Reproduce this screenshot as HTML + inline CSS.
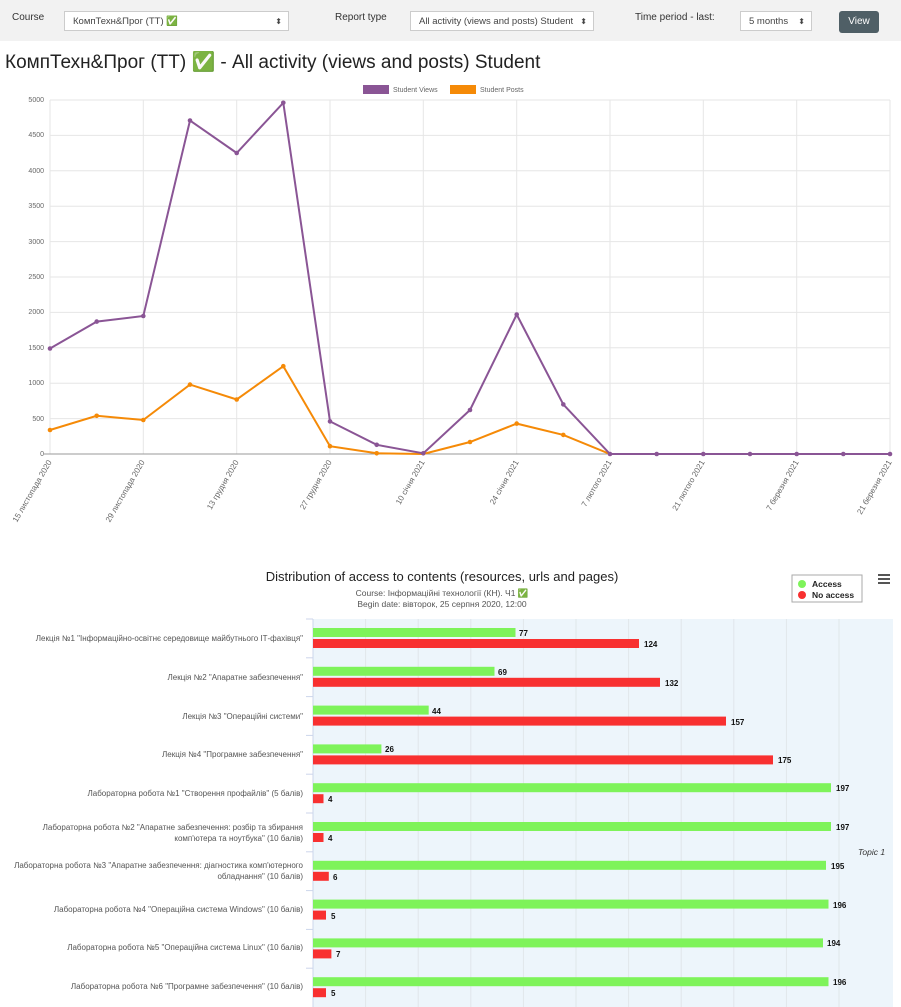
<!DOCTYPE html>
<html><head><meta charset="utf-8"><style>
body{margin:0;width:901px;height:1007px;overflow:hidden;background:#fff;font-family:"Liberation Sans","DejaVu Sans",sans-serif;}
.bar{position:absolute;left:0;top:0;width:901px;height:41px;background:#f2f2f2;}
.lbl{position:absolute;font-size:10px;color:#333;}
.sel{position:absolute;height:20px;border:1px solid #ccc;background:#fff;font-size:9.5px;color:#444;line-height:20px;padding-left:8px;box-sizing:border-box;}
.sel span{position:absolute;right:6px;top:0;font-size:8px;}
.btn{position:absolute;left:839px;top:11px;width:40px;height:22px;background:#4f5f66;color:#fff;font-size:10px;text-align:center;line-height:22px;border-radius:3px;}
h1{position:absolute;left:5px;top:50px;margin:0;font-weight:normal;font-size:19px;color:#222;}
</style></head><body>
<div class="bar"></div>
<div class="lbl" style="left:12px;top:12px">Course</div>
<div class="sel" style="left:64px;top:11px;width:225px">КомпТехн&amp;Прог (ТТ) ✅<span>⬍</span></div>
<div class="lbl" style="left:335px;top:12px">Report type</div>
<div class="sel" style="left:410px;top:11px;width:184px">All activity (views and posts) Student<span>⬍</span></div>
<div class="lbl" style="left:635px;top:12px">Time period - last:</div>
<div class="sel" style="left:740px;top:11px;width:72px">5 months<span>⬍</span></div>
<div class="btn">View</div>
<h1>КомпТехн&amp;Прог (ТТ) ✅ - All activity (views and posts) Student</h1>
<svg width="901" height="1007" style="position:absolute;left:0;top:0" font-family="Liberation Sans, DejaVu Sans, sans-serif">
<rect x="363" y="85" width="26" height="9" fill="#8a5595"/><text x="393" y="92" font-size="7" fill="#666">Student Views</text>
<rect x="450" y="85" width="26" height="9" fill="#f58a07"/><text x="480" y="92" font-size="7" fill="#666">Student Posts</text>
<g stroke="#e6e6e6" stroke-width="1">
<line x1="50" y1="100" x2="890" y2="100"/><line x1="50" y1="135.4" x2="890" y2="135.4"/><line x1="50" y1="170.8" x2="890" y2="170.8"/><line x1="50" y1="206.2" x2="890" y2="206.2"/><line x1="50" y1="241.6" x2="890" y2="241.6"/><line x1="50" y1="277" x2="890" y2="277"/><line x1="50" y1="312.4" x2="890" y2="312.4"/><line x1="50" y1="347.8" x2="890" y2="347.8"/><line x1="50" y1="383.2" x2="890" y2="383.2"/><line x1="50" y1="418.6" x2="890" y2="418.6"/>
<line x1="50" y1="100" x2="50" y2="454"/><line x1="143.3" y1="100" x2="143.3" y2="454"/><line x1="236.7" y1="100" x2="236.7" y2="454"/><line x1="330" y1="100" x2="330" y2="454"/><line x1="423.3" y1="100" x2="423.3" y2="454"/><line x1="516.7" y1="100" x2="516.7" y2="454"/><line x1="610" y1="100" x2="610" y2="454"/><line x1="703.3" y1="100" x2="703.3" y2="454"/><line x1="796.7" y1="100" x2="796.7" y2="454"/><line x1="890" y1="100" x2="890" y2="454"/>
</g>
<line x1="44" y1="454" x2="890" y2="454" stroke="#999"/>
<g font-size="7" fill="#666" text-anchor="end">
<text x="44" y="102">5000</text><text x="44" y="137">4500</text><text x="44" y="173">4000</text><text x="44" y="208">3500</text><text x="44" y="244">3000</text><text x="44" y="279">2500</text><text x="44" y="314">2000</text><text x="44" y="350">1500</text><text x="44" y="385">1000</text><text x="44" y="421">500</text><text x="44" y="456">0</text>
</g>
<g font-size="8" fill="#666" text-anchor="end">
<text transform="translate(52,462) rotate(-60)">15 листопада 2020</text>
<text transform="translate(145,462) rotate(-60)">29 листопада 2020</text>
<text transform="translate(239,462) rotate(-60)">13 грудня 2020</text>
<text transform="translate(332,462) rotate(-60)">27 грудня 2020</text>
<text transform="translate(425,462) rotate(-60)">10 січня 2021</text>
<text transform="translate(519,462) rotate(-60)">24 січня 2021</text>
<text transform="translate(612,462) rotate(-60)">7 лютого 2021</text>
<text transform="translate(705,462) rotate(-60)">21 лютого 2021</text>
<text transform="translate(799,462) rotate(-60)">7 березня 2021</text>
<text transform="translate(892,462) rotate(-60)">21 березня 2021</text>
</g>
<polyline fill="none" stroke="#f58a07" stroke-width="2" points="50,430 96.7,415.8 143.3,420 190,384.6 236.7,399.5 283.3,366.2 330,446.2 376.7,453.3 423.3,454 470,442 516.7,423.6 563.3,434.9 610,454 656.7,454 703.3,454 750,454 796.7,454 843.3,454 890,454"/>
<polyline fill="none" stroke="#8a5595" stroke-width="2" points="50,348.5 96.7,321.6 143.3,316 190,120.5 236.7,153 283.3,102.8 330,421.4 376.7,444.8 423.3,453.3 470,410 516.7,314.5 563.3,404.4 610,454 656.7,454 703.3,454 750,454 796.7,454 843.3,454 890,454"/>
<g fill="#f58a07"><circle cx="50" cy="430" r="2.3"/><circle cx="96.7" cy="415.8" r="2.3"/><circle cx="143.3" cy="420" r="2.3"/><circle cx="190" cy="384.6" r="2.3"/><circle cx="236.7" cy="399.5" r="2.3"/><circle cx="283.3" cy="366.2" r="2.3"/><circle cx="330" cy="446.2" r="2.3"/><circle cx="376.7" cy="453.3" r="2.3"/><circle cx="470" cy="442" r="2.3"/><circle cx="516.7" cy="423.6" r="2.3"/><circle cx="563.3" cy="434.9" r="2.3"/></g>
<g fill="#8a5595"><circle cx="50" cy="348.5" r="2.3"/><circle cx="96.7" cy="321.6" r="2.3"/><circle cx="143.3" cy="316" r="2.3"/><circle cx="190" cy="120.5" r="2.3"/><circle cx="236.7" cy="153" r="2.3"/><circle cx="283.3" cy="102.8" r="2.3"/><circle cx="330" cy="421.4" r="2.3"/><circle cx="376.7" cy="444.8" r="2.3"/><circle cx="423.3" cy="453.3" r="2.3"/><circle cx="470" cy="410" r="2.3"/><circle cx="516.7" cy="314.5" r="2.3"/><circle cx="563.3" cy="404.4" r="2.3"/><circle cx="610" cy="454" r="2.3"/><circle cx="656.7" cy="454" r="2.3"/><circle cx="703.3" cy="454" r="2.3"/><circle cx="750" cy="454" r="2.3"/><circle cx="796.7" cy="454" r="2.3"/><circle cx="843.3" cy="454" r="2.3"/><circle cx="890" cy="454" r="2.3"/></g>

<text x="442" y="581" font-size="13" fill="#222" text-anchor="middle">Distribution of access to contents (resources, urls and pages)</text>
<text x="442" y="596" font-size="8.5" fill="#555" text-anchor="middle">Course: Інформаційні технології (КН). Ч1 ✅</text>
<text x="442" y="607" font-size="8.5" fill="#555" text-anchor="middle">Begin date: вівторок, 25 серпня 2020, 12:00</text>
<rect x="792" y="575" width="70" height="27" fill="#fff" stroke="#aaa"/>
<circle cx="802" cy="584" r="4" fill="#7ef35a"/><text x="812" y="587" font-size="8.5" font-weight="bold" fill="#222">Access</text>
<circle cx="802" cy="595" r="4" fill="#f83030"/><text x="812" y="598" font-size="8.5" font-weight="bold" fill="#222">No access</text>
<g fill="#555"><rect x="878" y="574" width="12" height="2"/><rect x="878" y="578" width="12" height="2"/><rect x="878" y="582" width="12" height="2"/></g>
<rect x="313" y="619" width="580" height="388" fill="#edf5fb"/>
<g stroke="#e0e6ea"><line x1="365.6" y1="619" x2="365.6" y2="1007"/><line x1="418.2" y1="619" x2="418.2" y2="1007"/><line x1="470.8" y1="619" x2="470.8" y2="1007"/><line x1="523.4" y1="619" x2="523.4" y2="1007"/><line x1="576" y1="619" x2="576" y2="1007"/><line x1="628.6" y1="619" x2="628.6" y2="1007"/><line x1="681.2" y1="619" x2="681.2" y2="1007"/><line x1="733.8" y1="619" x2="733.8" y2="1007"/><line x1="786.4" y1="619" x2="786.4" y2="1007"/><line x1="839" y1="619" x2="839" y2="1007"/></g>
<line x1="313" y1="619" x2="313" y2="1007" stroke="#ccd6eb"/>
<g stroke="#ccd6eb"><line x1="306" y1="619" x2="313" y2="619"/><line x1="306" y1="657.8" x2="313" y2="657.8"/><line x1="306" y1="696.6" x2="313" y2="696.6"/><line x1="306" y1="735.4" x2="313" y2="735.4"/><line x1="306" y1="774.2" x2="313" y2="774.2"/><line x1="306" y1="813" x2="313" y2="813"/><line x1="306" y1="851.8" x2="313" y2="851.8"/><line x1="306" y1="890.6" x2="313" y2="890.6"/><line x1="306" y1="929.4" x2="313" y2="929.4"/><line x1="306" y1="968.2" x2="313" y2="968.2"/></g>
<text x="858" y="855" font-size="8.5" font-style="italic" fill="#333">Topic 1</text>
<g fill="#7ef35a">
<rect x="313" y="628" width="202.5" height="9"/><rect x="313" y="666.8" width="181.5" height="9"/><rect x="313" y="705.6" width="115.7" height="9"/><rect x="313" y="744.4" width="68.4" height="9"/><rect x="313" y="783.2" width="518" height="9"/><rect x="313" y="822" width="518" height="9"/><rect x="313" y="860.8" width="513" height="9"/><rect x="313" y="899.6" width="515.5" height="9"/><rect x="313" y="938.4" width="510" height="9"/><rect x="313" y="977.2" width="515.5" height="9"/></g>
<g fill="#f83030">
<rect x="313" y="639" width="326" height="9"/><rect x="313" y="677.8" width="347" height="9"/><rect x="313" y="716.6" width="413" height="9"/><rect x="313" y="755.4" width="460" height="9"/><rect x="313" y="794.2" width="10.5" height="9"/><rect x="313" y="833" width="10.5" height="9"/><rect x="313" y="871.8" width="15.8" height="9"/><rect x="313" y="910.6" width="13" height="9"/><rect x="313" y="949.4" width="18.4" height="9"/><rect x="313" y="988.2" width="13" height="9"/></g>
<g font-size="8" font-weight="bold" fill="#111">
<text x="519" y="636">77</text><text x="644" y="647">124</text>
<text x="498" y="675">69</text><text x="665" y="686">132</text>
<text x="432" y="714">44</text><text x="731" y="725">157</text>
<text x="385" y="752">26</text><text x="778" y="763">175</text>
<text x="836" y="791">197</text><text x="328" y="802">4</text>
<text x="836" y="830">197</text><text x="328" y="841">4</text>
<text x="831" y="869">195</text><text x="333" y="880">6</text>
<text x="833" y="908">196</text><text x="331" y="919">5</text>
<text x="827" y="946">194</text><text x="336" y="957">7</text>
<text x="833" y="985">196</text><text x="331" y="996">5</text></g>
<g font-size="8" fill="#555" text-anchor="end">
<text x="303" y="641">Лекція №1 "Інформаційно-освітнє середовище майбутнього ІТ-фахівця"</text>
<text x="303" y="680">Лекція №2 "Апаратне забезпечення"</text>
<text x="303" y="719">Лекція №3 "Операційні системи"</text>
<text x="303" y="757">Лекція №4 "Програмне забезпечення"</text>
<text x="303" y="796">Лабораторна робота №1 "Створення профайлів" (5 балів)</text>
<text x="303" y="830">Лабораторна робота №2 "Апаратне забезпечення: розбір та збирання</text>
<text x="303" y="841">комп'ютера та ноутбука" (10 балів)</text>
<text x="303" y="868">Лабораторна робота №3 "Апаратне забезпечення: діагностика комп'ютерного</text>
<text x="303" y="879">обладнання" (10 балів)</text>
<text x="303" y="912">Лабораторна робота №4 "Операційна система Windows" (10 балів)</text>
<text x="303" y="950">Лабораторна робота №5 "Операційна система Linux" (10 балів)</text>
<text x="303" y="989">Лабораторна робота №6 "Програмне забезпечення" (10 балів)</text>
</g>
</svg>
</body></html>
